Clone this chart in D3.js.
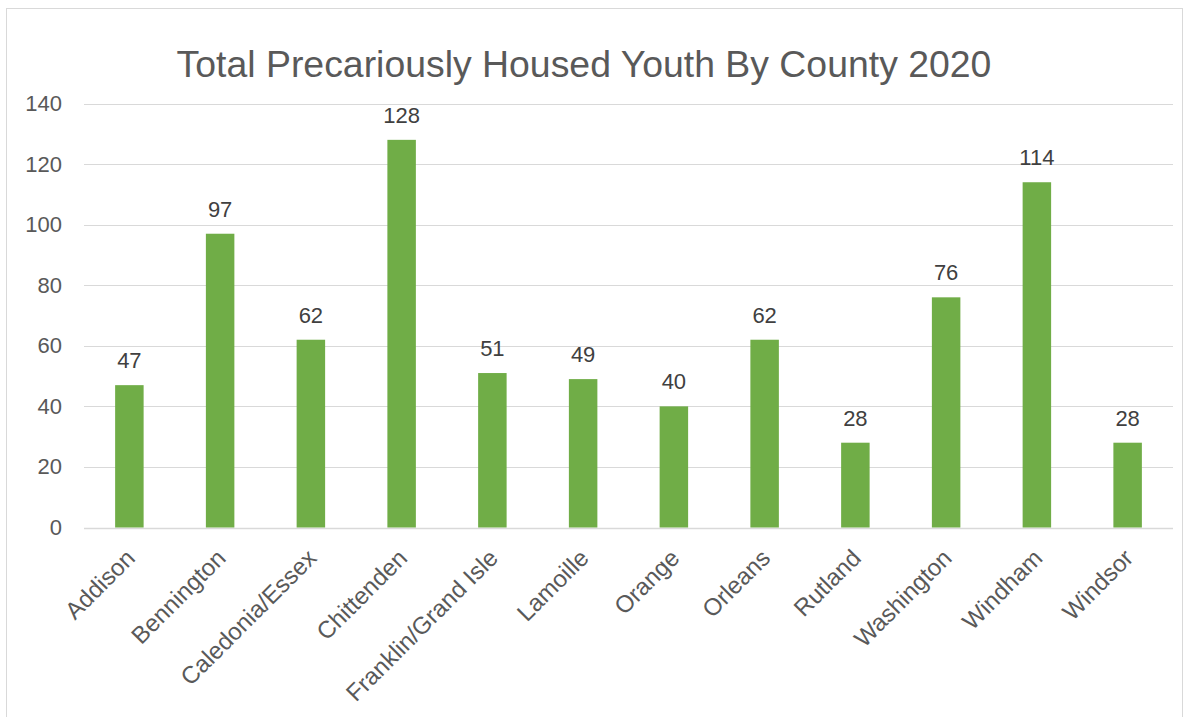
<!DOCTYPE html>
<html>
<head>
<meta charset="utf-8">
<script src="https://cdn.jsdelivr.net/npm/d3@7"></script>
<style>
  html, body { margin: 0; padding: 0; background: #fff; }
  svg { display: block; font-family: "Liberation Sans", Arial, sans-serif; }
</style>
</head>
<body>
<svg id="chart" width="1189" height="717"></svg>
<script>
// Precariously housed youth counts, 2020
const counties = ["Addison", "Bennington", "Caledonia/Essex", "Chittenden", "Franklin/Grand Isle",
  "Lamoille", "Orange", "Orleans", "Rutland", "Washington", "Windham", "Windsor"];
const youthCounts = [47, 97, 62, 128, 51, 49, 40, 62, 28, 76, 114, 28];
const yTicks = [0, 20, 40, 60, 80, 100, 120, 140];
const chartTitle = "Total Precariously Housed Youth By County 2020";

const svg = d3.select("#chart");
const W = 1189, H = 717;

// chart frame
svg.append("rect")
  .attr("x", 6.5).attr("y", 8.5)
  .attr("width", W - 13).attr("height", H - 4)
  .attr("fill", "#fff").attr("stroke", "#d9d9d9").attr("stroke-width", 1);

const plot = { left: 84, right: 1173, top: 103.5, bottom: 527.5 };

const x = d3.scaleBand().domain(counties).range([plot.left, plot.right]).paddingInner(0.686).paddingOuter(0.343);
const y = d3.scaleLinear().domain([0, 140]).range([plot.bottom, plot.top]);

// title
svg.append("text")
  .attr("x", 584).attr("y", 77)
  .attr("text-anchor", "middle")
  .attr("font-size", 37.4)
  .attr("fill", "#595959")
  .text(chartTitle);

// gridlines
svg.append("g").selectAll("line").data(yTicks).join("line")
  .attr("x1", plot.left).attr("x2", plot.right)
  .attr("y1", d => Math.round(y(d)) + 0.5).attr("y2", d => Math.round(y(d)) + 0.5)
  .attr("stroke", "#d9d9d9").attr("stroke-width", d => d === 0 ? 1.5 : 1);

// y axis labels
const yAxis = d3.axisLeft(y).tickValues(yTicks).tickSize(0).tickPadding(0);
svg.append("g")
  .attr("transform", `translate(62,0)`)
  .call(yAxis)
  .call(g => g.select(".domain").remove())
  .call(g => g.selectAll("text").attr("font-size", 22).attr("fill", "#595959")
    .attr("font-family", "'Liberation Sans', Arial, sans-serif"));

// bars
svg.append("g").selectAll("rect").data(counties).join("rect")
  .attr("x", d => x(d))
  .attr("width", x.bandwidth())
  .attr("y", (d, i) => y(youthCounts[i]))
  .attr("height", (d, i) => y(0) - y(youthCounts[i]))
  .attr("fill", "#70ad47");

// value labels
svg.append("g").selectAll("text").data(counties).join("text")
  .attr("x", d => x(d) + x.bandwidth() / 2)
  .attr("y", (d, i) => y(youthCounts[i]) - 17)
  .attr("text-anchor", "middle")
  .attr("font-size", 22)
  .attr("fill", "#404040")
  .text((d, i) => youthCounts[i]);

// category labels, rotated
const xAxis = d3.axisBottom(x).tickSize(0).tickPadding(0);
svg.append("g")
  .attr("transform", `translate(0,${plot.bottom})`)
  .call(xAxis)
  .call(g => g.select(".domain").remove())
  .call(g => g.selectAll("text")
    .attr("font-size", 24).attr("fill", "#595959")
    .attr("font-family", "'Liberation Sans', Arial, sans-serif")
    .attr("text-anchor", "end")
    .attr("dy", 0)
    .attr("transform", "translate(7,32) rotate(-45)"));
</script>
</body>
</html>
